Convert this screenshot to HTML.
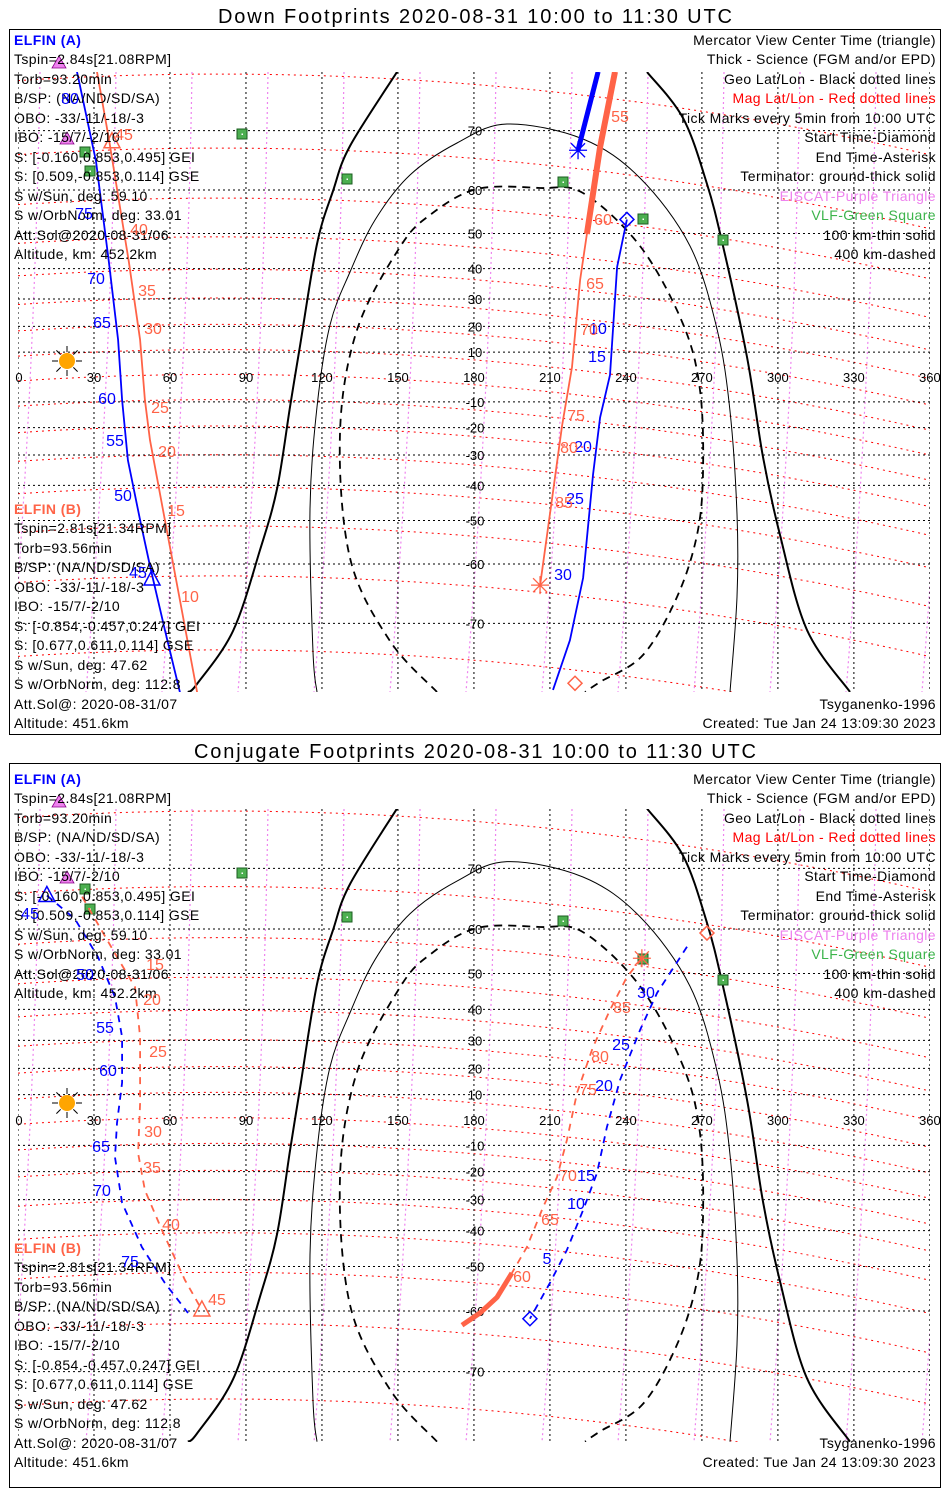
<!DOCTYPE html>
<html><head><meta charset="utf-8"><title>ELFIN Footprints</title>
<style>
html,body{margin:0;padding:0;background:#fff;overflow:hidden;width:950px;height:1500px;}
svg{display:block;font-family:"Liberation Sans",sans-serif;}
.t{font-size:14px;fill:#000;letter-spacing:0.4px;}
.r{text-anchor:end;}
.tk{font-size:16px;text-anchor:middle;}
.ax{font-size:13px;text-anchor:middle;fill:#000;}
</style></head>
<body>
<svg id="chart" width="950" height="1500" viewBox="0 0 950 1500" overflow="hidden">
<rect x="0" y="0" width="950" height="1500" fill="#fff"/>
<text x="475" y="23" text-anchor="middle" font-size="20" textLength="514">Down Footprints 2020-08-31 10:00 to 11:30 UTC</text>
<rect x="9.5" y="29.5" width="931" height="705" fill="none" stroke="#000"/>
<text x="475" y="758" text-anchor="middle" font-size="20" textLength="562">Conjugate Footprints 2020-08-31 10:00 to 11:30 UTC</text>
<rect x="9.5" y="763.5" width="931" height="724" fill="none" stroke="#000"/>
<g id="map1"></g>
<g id="map2"></g>

<g id="txt1">
<g>
<text class="t" x="14" y="45" style="fill:#0000ff;font-weight:bold">ELFIN (A)</text>
<text class="t" x="14" y="64">Tspin=2.84s[21.08RPM]</text>
<text class="t" x="14" y="84">Torb=93.20min</text>
<text class="t" x="14" y="103">B/SP: (NA/ND/SD/SA)</text>
<text class="t" x="14" y="123">OBO: -33/-11/-18/-3</text>
<text class="t" x="14" y="142">IBO: -15/7/-2/10</text>
<text class="t" x="14" y="162">S: [-0.160,0.853,0.495] GEI</text>
<text class="t" x="14" y="181">S: [0.509,-0.853,0.114] GSE</text>
<text class="t" x="14" y="201">S w/Sun, deg: 59.10</text>
<text class="t" x="14" y="220">S w/OrbNorm, deg: 33.01</text>
<text class="t" x="14" y="240">Att.Sol@2020-08-31/06</text>
<text class="t" x="14" y="259">Altitude, km: 452.2km</text>
</g>
<g>
<text class="t" x="14" y="514" style="fill:#ff6347;font-weight:bold">ELFIN (B)</text>
<text class="t" x="14" y="533">Tspin=2.81s[21.34RPM]</text>
<text class="t" x="14" y="553">Torb=93.56min</text>
<text class="t" x="14" y="572">B/SP: (NA/ND/SD/SA)</text>
<text class="t" x="14" y="592">OBO: -33/-11/-18/-3</text>
<text class="t" x="14" y="611">IBO: -15/7/-2/10</text>
<text class="t" x="14" y="631">S: [-0.854,-0.457,0.247] GEI</text>
<text class="t" x="14" y="650">S: [0.677,0.611,0.114] GSE</text>
<text class="t" x="14" y="670">S w/Sun, deg: 47.62</text>
<text class="t" x="14" y="689">S w/OrbNorm, deg: 112.8</text>
<text class="t" x="14" y="709">Att.Sol@: 2020-08-31/07</text>
<text class="t" x="14" y="728">Altitude: 451.6km</text>
</g>
<g>
<text class="t r" x="936" y="45">Mercator View Center Time (triangle)</text>
<text class="t r" x="936" y="64">Thick - Science (FGM and/or EPD)</text>
<text class="t r" x="936" y="84">Geo Lat/Lon - Black dotted lines</text>
<text class="t r" x="936" y="103" style="fill:#ff0000">Mag Lat/Lon - Red dotted lines</text>
<text class="t r" x="936" y="123">Tick Marks every 5min from 10:00 UTC</text>
<text class="t r" x="936" y="142">Start Time-Diamond</text>
<text class="t r" x="936" y="162">End Time-Asterisk</text>
<text class="t r" x="936" y="181">Terminator: ground-thick solid</text>
<text class="t r" x="936" y="201" style="fill:#ee82ee">EISCAT-Purple Triangle</text>
<text class="t r" x="936" y="220" style="fill:#3cb44b">VLF-Green Square</text>
<text class="t r" x="936" y="240">100 km-thin solid</text>
<text class="t r" x="936" y="259">400 km-dashed</text>
<text class="t r" x="936" y="709">Tsyganenko-1996</text>
<text class="t r" x="936" y="728">Created: Tue Jan 24 13:09:30 2023</text>
</g>
</g>

<g id="txt2" transform="translate(0,739)">
<g>
<text class="t" x="14" y="45" style="fill:#0000ff;font-weight:bold">ELFIN (A)</text>
<text class="t" x="14" y="64">Tspin=2.84s[21.08RPM]</text>
<text class="t" x="14" y="84">Torb=93.20min</text>
<text class="t" x="14" y="103">B/SP: (NA/ND/SD/SA)</text>
<text class="t" x="14" y="123">OBO: -33/-11/-18/-3</text>
<text class="t" x="14" y="142">IBO: -15/7/-2/10</text>
<text class="t" x="14" y="162">S: [-0.160,0.853,0.495] GEI</text>
<text class="t" x="14" y="181">S: [0.509,-0.853,0.114] GSE</text>
<text class="t" x="14" y="201">S w/Sun, deg: 59.10</text>
<text class="t" x="14" y="220">S w/OrbNorm, deg: 33.01</text>
<text class="t" x="14" y="240">Att.Sol@2020-08-31/06</text>
<text class="t" x="14" y="259">Altitude, km: 452.2km</text>
</g>
<g>
<text class="t" x="14" y="514" style="fill:#ff6347;font-weight:bold">ELFIN (B)</text>
<text class="t" x="14" y="533">Tspin=2.81s[21.34RPM]</text>
<text class="t" x="14" y="553">Torb=93.56min</text>
<text class="t" x="14" y="572">B/SP: (NA/ND/SD/SA)</text>
<text class="t" x="14" y="592">OBO: -33/-11/-18/-3</text>
<text class="t" x="14" y="611">IBO: -15/7/-2/10</text>
<text class="t" x="14" y="631">S: [-0.854,-0.457,0.247] GEI</text>
<text class="t" x="14" y="650">S: [0.677,0.611,0.114] GSE</text>
<text class="t" x="14" y="670">S w/Sun, deg: 47.62</text>
<text class="t" x="14" y="689">S w/OrbNorm, deg: 112.8</text>
<text class="t" x="14" y="709">Att.Sol@: 2020-08-31/07</text>
<text class="t" x="14" y="728">Altitude: 451.6km</text>
</g>
<g>
<text class="t r" x="936" y="45">Mercator View Center Time (triangle)</text>
<text class="t r" x="936" y="64">Thick - Science (FGM and/or EPD)</text>
<text class="t r" x="936" y="84">Geo Lat/Lon - Black dotted lines</text>
<text class="t r" x="936" y="103" style="fill:#ff0000">Mag Lat/Lon - Red dotted lines</text>
<text class="t r" x="936" y="123">Tick Marks every 5min from 10:00 UTC</text>
<text class="t r" x="936" y="142">Start Time-Diamond</text>
<text class="t r" x="936" y="162">End Time-Asterisk</text>
<text class="t r" x="936" y="181">Terminator: ground-thick solid</text>
<text class="t r" x="936" y="201" style="fill:#ee82ee">EISCAT-Purple Triangle</text>
<text class="t r" x="936" y="220" style="fill:#3cb44b">VLF-Green Square</text>
<text class="t r" x="936" y="240">100 km-thin solid</text>
<text class="t r" x="936" y="259">400 km-dashed</text>
<text class="t r" x="936" y="709">Tsyganenko-1996</text>
<text class="t r" x="936" y="728">Created: Tue Jan 24 13:09:30 2023</text>
</g>
</g>

<g>
<g fill="#0000ff">
<text class="tk" x="70" y="104">80</text><text class="tk" x="84" y="219">75</text><text class="tk" x="96" y="284">70</text>
<text class="tk" x="102" y="328">65</text><text class="tk" x="107" y="404">60</text><text class="tk" x="115" y="446">55</text>
<text class="tk" x="123" y="501">50</text><text class="tk" x="138" y="578">45</text>
<text class="tk" x="598" y="334">10</text><text class="tk" x="597" y="362">15</text><text class="tk" x="583" y="452">20</text>
<text class="tk" x="575" y="504">25</text><text class="tk" x="563" y="580">30</text>
</g>
<g fill="#ff6347">
<text class="tk" x="124" y="140">45</text><text class="tk" x="139" y="235">40</text><text class="tk" x="147" y="296">35</text>
<text class="tk" x="153" y="334">30</text><text class="tk" x="160" y="413">25</text><text class="tk" x="167" y="457">20</text>
<text class="tk" x="176" y="516">15</text><text class="tk" x="190" y="602">10</text>
<text class="tk" x="620" y="122">55</text><text class="tk" x="603" y="225">60</text><text class="tk" x="595" y="289">65</text>
<text class="tk" x="589" y="335">70</text><text class="tk" x="576" y="421">75</text><text class="tk" x="569" y="453">80</text>
<text class="tk" x="564" y="508">85</text>
</g>
</g>
<g>
<g fill="#0000ff">
<text class="tk" x="30" y="919">45</text><text class="tk" x="85" y="980">50</text><text class="tk" x="105" y="1033">55</text>
<text class="tk" x="108" y="1076">60</text><text class="tk" x="101" y="1152">65</text><text class="tk" x="102" y="1196">70</text>
<text class="tk" x="130" y="1267">75</text>
<text class="tk" x="646" y="998">30</text><text class="tk" x="621" y="1050">25</text><text class="tk" x="604" y="1091">20</text>
<text class="tk" x="586" y="1181">15</text><text class="tk" x="576" y="1209">10</text><text class="tk" x="547" y="1264">5</text>
</g>
<g fill="#ff6347">
<text class="tk" x="155" y="970">15</text><text class="tk" x="152" y="1005">20</text><text class="tk" x="158" y="1057">25</text>
<text class="tk" x="153" y="1137">30</text><text class="tk" x="152" y="1173">35</text><text class="tk" x="171" y="1230">40</text>
<text class="tk" x="217" y="1305">45</text>
<text class="tk" x="522" y="1282">60</text><text class="tk" x="550" y="1225">65</text><text class="tk" x="568" y="1181">70</text>
<text class="tk" x="588" y="1095">75</text><text class="tk" x="600" y="1062">80</text><text class="tk" x="622" y="1013">85</text>
</g>
</g>
</svg>

<script>
// ---- Track data (geographic lon/lat, degrees) ----
const downA_lon = [23.3, 30.8, 35.9, 39.5, 41.1, 43.4, 48.2, 52.1, 58.0, 63.9];
const downA_lat = [76.7, 65.3, 42.0, 14.8, -9.2, -31.8, -49.9, -60.4, -70.9, -77.6];
const downB_lon = [31.2, 35.9, 43.8, 48.2, 50.1, 52.1, 58.0, 63.9, 70.7];
const downB_lat = [76.7, 68.8, 42.0, 14.8, -9.2, -24.7, -49.9, -66.5, -77.6];
const downA_sci_lon = [229.0, 221.1];
const downA_sci_lat = [76.7, 67.1];
const downA2_lon = [240.4, 236.5, 233.7, 229.8, 227.0, 223.1, 217.9, 211.2];
const downA2_lat = [53.5, 40.5, 0.8, -16.1, -36.7, -62.7, -72.2, -77.4];
const downB_sci_lon = [235.7, 229.8, 224.6];
const downB_sci_lat = [76.7, 67.6, 49.9];
const downB2_lon = [224.6, 221.9, 218.7, 214.8, 211.2, 206.1];
const downB2_lat = [49.9, 36.4, 4.0, -19.2, -42.0, -64.0];

const conjA_lon = [11.4, 22.5, 31.6, 38.3, 41.1, 41.1, 39.1, 38.3, 41.1, 48.9, 58.0, 67.1];
const conjA_lat = [66.0, 61.9, 54.0, 43.6, 31.1, 14.6, -1.2, -14.6, -31.1, -44.8, -54.0, -60.4];
const conjB_lon = [25.3, 38.3, 46.2, 48.2, 48.2, 47.4, 50.1, 56.8, 65.9, 72.6];
const conjB_lat = [65.8, 54.8, 46.4, 31.1, 6.7, -13.0, -26.7, -39.8, -53.3, -59.8];
const conjA2_lon = [264.1, 252.3, 245.6, 237.7, 232.5, 228.6, 223.1, 216.7, 210.0, 202.1];
const conjA2_lat = [56.3, 44.8, 33.5, 15.7, -2.8, -20.5, -33.5, -45.6, -54.0, -61.5];
const conjB2_lon = [246.3, 240.4, 233.7, 227.0, 220.7, 216.7, 212.8, 207.3, 200.9, 195.0];
const conjB2_lat = [53.7, 49.1, 39.8, 27.7, 10.6, -7.9, -22.0, -32.5, -44.8, -51.6];
const conjB_sci_lon = [195.0, 189.1, 182.4, 175.3];
const conjB_sci_lat = [-51.6, -57.2, -60.4, -62.7];

const lonTicks = [0, 30, 60, 90, 120, 150, 180, 210, 240, 270, 300, 330, 360];
const latTicks = [70, 60, 50, 40, 30, 20, 10, -10, -20, -30, -40, -50, -60, -70];

const NS = "http://www.w3.org/2000/svg";
const P1 = {eq: 377, k: 142, top: 72, bot: 692};
const P2 = {eq: 1120, k: 145, top: 809, bot: 1442};
function X(lon) { return 18 + lon * 2.533; }
function Y(lat, P) { const r = lat * Math.PI / 180; return P.eq - P.k * Math.log(Math.tan(Math.PI / 4 + r / 2)); }
function el(tag, attrs, parent) {
  const e = document.createElementNS(NS, tag);
  for (const a in attrs) e.setAttribute(a, attrs[a]);
  parent.appendChild(e);
  return e;
}
function ptsStr(lons, lats, P) { return lons.map((l, i) => X(l).toFixed(1) + "," + Y(lats[i], P).toFixed(1)).join(" "); }
function smooth(s) {
  const p = s.trim().split(/\s+/).map(q => q.split(",").map(Number));
  let d = `M${p[0][0]},${p[0][1]}`;
  for (let i = 0; i < p.length - 1; i++) {
    const p0 = p[Math.max(0, i - 1)], p1 = p[i], p2 = p[i + 1], p3 = p[Math.min(p.length - 1, i + 2)];
    const c1x = p1[0] + (p2[0] - p0[0]) / 6, c1y = p1[1] + (p2[1] - p0[1]) / 6;
    const c2x = p2[0] - (p3[0] - p1[0]) / 6, c2y = p2[1] - (p3[1] - p1[1]) / 6;
    d += ` C${c1x.toFixed(1)},${c1y.toFixed(1)} ${c2x.toFixed(1)},${c2y.toFixed(1)} ${p2[0]},${p2[1]}`;
  }
  return d;
}

const termThick1 = "397,72 350,146 333,191 317,244 300,346 290,407 277,489 260,550 233,631 197,684 188,692";
const termThick2 = "647,72 683,118 707,184 723,246 747,357 763,457 780,535 807,630 850,692";
const term100 = "317,692 313,652 310,509 317,407 330,325 350,272 375,220 410,175 457,143 507,124 583,139 640,178 690,246 717,329 730,411 737,514 737,597 730,692";
const term400 = "437,692 390,641 350,558 340,433 357,330 400,247 430,215 477,189 540,188 583,193 640,246 683,324 700,390 703,473 697,535 677,597 643,655 600,682 585,692";

function marker(g, type, x, y, color, name) {
  let m;
  if (type === "diamond") m = el("path", {d: `M${x},${y-7} L${x+7},${y} L${x},${y+7} L${x-7},${y} Z`, fill: "none", stroke: color, "stroke-width": 1.5}, g);
  else if (type === "triangle") m = el("path", {d: `M${x},${y-9} L${x+8},${y+6} L${x-8},${y+6} Z`, fill: "none", stroke: color, "stroke-width": 1.5}, g);
  else if (type === "ptri") m = el("path", {d: `M${x},${y-7} L${x+7},${y+5} L${x-7},${y+5} Z`, fill: "#ee82ee", stroke: "#8b008b", "stroke-width": 0.8}, g);
  else if (type === "square") { m = el("g", {}, g); el("rect", {x: x-5, y: y-5, width: 10, height: 10, fill: "#4caf50", stroke: "#1b5e20"}, m); el("rect", {x: x-0.5, y: y-0.5, width: 1.5, height: 1.5, fill: "#fff"}, m); }
  else { m = el("path", {d: `M${x-9},${y} L${x+9},${y} M${x},${y-9} L${x},${y+9} M${x-7},${y-7} L${x+7},${y+7} M${x-7},${y+7} L${x+7},${y-7}`, stroke: color, "stroke-width": 1.3}, g); }
  
  
}

function drawPanel(g, P, id, tracks, markers, squares, tris, sunY) {
  const defs = el("defs", {}, g);
  const cp = el("clipPath", {id: "clip" + id}, defs);
  el("rect", {x: 18, y: P.top, width: 912, height: P.bot - P.top}, cp);
  const mapG = el("g", {"clip-path": `url(#clip${id})`}, g);
  const magG = el("g", {fill: "none", stroke: "#ff0000", "stroke-width": 1, "stroke-dasharray": "2,4"}, mapG);
  
  
  for (let L = -85; L <= 85; L += 10) {
    const pts = [];
    for (let x = 18; x <= 932; x += 19) {
      const y = Y(L, P) - 15 + 0.00016 * (x - 220) * (x - 220);
      if (y >= P.top - 20 && y <= P.bot + 20) pts.push(x + "," + y.toFixed(1));
    }
    if (pts.length > 1) el("polyline", {points: pts.join(" ")}, magG);
  }
  const pG = el("g", {fill: "none", stroke: "#ee82ee", "stroke-width": 1.2, "stroke-dasharray": "2,3"}, mapG);
  
  
  for (let i = 0; i < 13; i++) {
    const x0 = 40 + 76 * i, h = P.bot - P.top;
    el("path", {d: `M${x0},${P.top} Q${x0 - 5},${P.top + h / 2} ${x0 - 30},${P.bot}`}, pG);
  }
  const gG = el("g", {stroke: "#000", "stroke-width": 1, "stroke-dasharray": "2,3", fill: "none"}, mapG);
  
  
  lonTicks.forEach(l => el("line", {x1: X(l), x2: X(l), y1: P.top, y2: P.bot}, gG));
  latTicks.forEach(l => el("line", {x1: 18, x2: 930, y1: Y(l, P), y2: Y(l, P)}, gG));
  const tG = el("g", {fill: "none", stroke: "#000", transform: `translate(0,${P.eq}) scale(1,${P.k / 142}) translate(0,-377)`}, mapG);
  
  
  el("path", {d: smooth(termThick1), "stroke-width": 2}, tG);
  el("path", {d: smooth(termThick2), "stroke-width": 2}, tG);
  el("path", {d: smooth(term100), "stroke-width": 1}, tG);
  el("path", {d: smooth(term400), "stroke-width": 1.8, "stroke-dasharray": "8,6"}, tG);
  const aG = el("g", {}, g);
  
  
  lonTicks.forEach(l => { const t = el("text", {class: "ax", x: l === 0 ? 19 : X(l), y: P.eq + 5}, aG); t.textContent = String(l); });
  latTicks.forEach(l => { const t = el("text", {class: "ax", x: 475, y: Y(l, P) + 5}, aG); t.textContent = String(l); });
  squares.forEach(s => marker(g, "square", s[0], s[1], "", "vlf-station"));
  tris.forEach(s => marker(g, "ptri", s[0], s[1], "", "eiscat-station"));
  const sun = el("g", {}, g);
  
  
  for (let a = 0; a < 8; a++) { const r = a * Math.PI / 4; el("line", {x1: 67 + 9 * Math.cos(r), y1: sunY + 9 * Math.sin(r), x2: 67 + 15 * Math.cos(r), y2: sunY + 15 * Math.sin(r), stroke: "#000", "stroke-width": 1}, sun); }
  el("circle", {cx: 67, cy: sunY, r: 8, fill: "#ffa500"}, sun);
  const trG = el("g", {"clip-path": `url(#clip${id})`, fill: "none"}, g);
  tracks.forEach(t => {
    const p = el("polyline", {points: ptsStr(t.lon, t.lat, P), stroke: t.color, "stroke-width": t.w, "stroke-dasharray": t.dash || "none", "stroke-linejoin": "round"}, trG);
    
    
  });
  markers.forEach(m => marker(g, m.type, X(m.lon), Y(m.lat, P), m.color, m.name));
}

const BLUE = "#0000ff", RED = "#ff6347";
drawPanel(document.getElementById("map1"), P1, 1, [
  {lon: downA_lon, lat: downA_lat, color: BLUE, w: 1.8, name: "elfin-a-track-west"},
  {lon: downB_lon, lat: downB_lat, color: RED, w: 1.8, name: "elfin-b-track-west"},
  {lon: downA_sci_lon, lat: downA_sci_lat, color: BLUE, w: 5, name: "elfin-a-science-segment"},
  {lon: downA2_lon, lat: downA2_lat, color: BLUE, w: 1.8, name: "elfin-a-track-east"},
  {lon: downB_sci_lon, lat: downB_sci_lat, color: RED, w: 6, name: "elfin-b-science-segment"},
  {lon: downB2_lon, lat: downB2_lat, color: RED, w: 1.8, name: "elfin-b-track-east"}
], [
  {type: "asterisk", lon: downA_sci_lon[downA_sci_lon.length - 1], lat: downA_sci_lat[downA_sci_lat.length - 1], color: BLUE, name: "elfin-a-end-asterisk"},
  {type: "diamond", lon: downA2_lon[0], lat: downA2_lat[0], color: BLUE, name: "elfin-a-start-diamond"},
  {type: "asterisk", lon: downB2_lon[downB2_lon.length - 1], lat: downB2_lat[downB2_lat.length - 1], color: RED, name: "elfin-b-end-asterisk"},
  {type: "diamond", lon: 219.9, lat: -76.8, color: RED, name: "elfin-b-start-diamond"},
  {type: "triangle", lon: 52.9, lat: -62.9, color: BLUE, name: "elfin-a-center-triangle"},
  {type: "triangle", lon: 37.1, lat: 68.4, color: RED, name: "elfin-b-center-triangle"}
], [[242,134],[85,152],[90,171],[347,179],[563,182],[643,219],[723,240]], [[59,63],[67,139]], 361);

drawPanel(document.getElementById("map2"), P2, 2, [
  {lon: conjA_lon, lat: conjA_lat, color: BLUE, w: 1.8, dash: "7,6", name: "elfin-a-conj-track-west"},
  {lon: conjB_lon, lat: conjB_lat, color: RED, w: 1.8, dash: "7,6", name: "elfin-b-conj-track-west"},
  {lon: conjA2_lon, lat: conjA2_lat, color: BLUE, w: 1.8, dash: "7,6", name: "elfin-a-conj-track-east"},
  {lon: conjB2_lon, lat: conjB2_lat, color: RED, w: 1.8, dash: "7,6", name: "elfin-b-conj-track-east"},
  {lon: conjB_sci_lon, lat: conjB_sci_lat, color: RED, w: 5, name: "elfin-b-conj-science-segment"}
], [
  {type: "triangle", lon: conjA_lon[0], lat: conjA_lat[0], color: BLUE, name: "elfin-a-conj-center-triangle"},
  {type: "triangle", lon: conjB_lon[conjB_lon.length - 1], lat: conjB_lat[conjB_lat.length - 1], color: RED, name: "elfin-b-conj-center-triangle"},
  {type: "asterisk", lon: conjB2_lon[0], lat: conjB2_lat[0], color: RED, name: "elfin-b-conj-end-asterisk"},
  {type: "diamond", lon: conjA2_lon[conjA2_lon.length - 1], lat: conjA2_lat[conjA2_lat.length - 1], color: BLUE, name: "elfin-a-conj-start-diamond"},
  {type: "diamond", lon: 272, lat: 59.2, color: RED, name: "elfin-b-conj-start-diamond"}
], [[242,873],[85,889],[90,909],[347,917],[563,921],[643,959],[723,980]], [[59,802],[67,878]], 1103);
</script>
</body></html>
